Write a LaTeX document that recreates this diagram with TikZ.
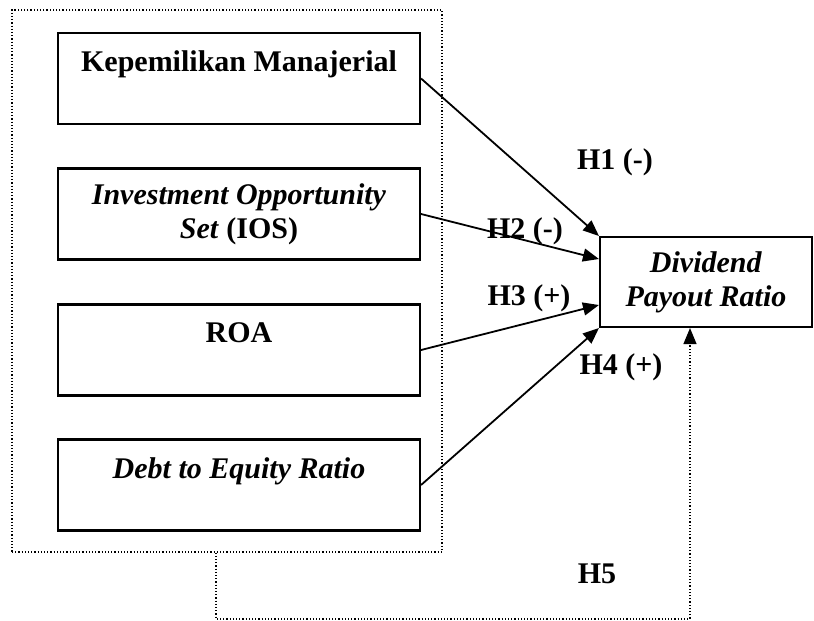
\documentclass[tikz,border=0pt]{standalone}
\usepackage{fontspec}
\setmainfont{Liberation Serif}
\usetikzlibrary{arrows.meta, positioning}

\begin{document}
\begin{tikzpicture}[
    x=1pt, y=-1pt,
    every node/.style={font=\fontsize{30}{34}\selectfont\bfseries},
    varbox/.style={draw, line width=2.1pt, minimum width=362pt, minimum height=91pt, align=center, inner sep=0pt},
    grpbox/.style={draw, dotted, line width=1.2pt, minimum width=430pt, minimum height=542pt, inner sep=0pt},
    arr/.style={-{Triangle[length=16pt, width=13pt]}, line width=1.8pt},
    fb/.style={dotted, line width=1.2pt, -{Triangle[length=16pt, width=13pt]}},
    hyp/.style={inner sep=0pt}
  ]
  \useasboundingbox (0,0) rectangle (814,621);
  % independent variables
  \node[grpbox] (grp) at (227,281) {};
  \node[varbox] (km)  at (239,78.5) {Kepemilikan Manajerial\\ \mbox{}};
  \node[varbox] (ios) at (239,214)  {\textit{Investment Opportunity}\\ \textit{Set} (IOS)};
  \node[varbox] (roa) at (239,350)  {ROA\\ \mbox{}};
  \node[varbox] (der) at (239,485)  {\textit{Debt to Equity Ratio}\\ \mbox{}};
  % dependent variable
  \node[varbox, minimum width=212pt, minimum height=90pt] (dpr) at (706,282) {\textit{Dividend}\\ \textit{Payout Ratio}};

  \draw[arr] (km.east)  -- (dpr.north west);
  \draw[arr] (ios.east) -- ([yshift=23pt]dpr.west);
  \draw[arr] (roa.east) -- ([yshift=-23pt]dpr.west);
  \draw[arr] (der.east) -- (dpr.south west);

  \coordinate (c1) at (216,619);
  \coordinate (c2) at (690,619);
  \draw[fb] (grp.south -| c1) -- (c1) -- (c2) -- (dpr.south -| c2);

  % hypotheses
  \node[hyp] (h1) at (615,162) {H1 (-)};
  \node[hyp] (h2) at (525,231) {H2 (-)};
  \node[hyp] (h3) at (529,298) {H3 (+)};
  \node[hyp] (h4) at (621,367) {H4 (+)};
  \node[hyp] (h5) at (597,574) {H5};
\end{tikzpicture}
\end{document}
